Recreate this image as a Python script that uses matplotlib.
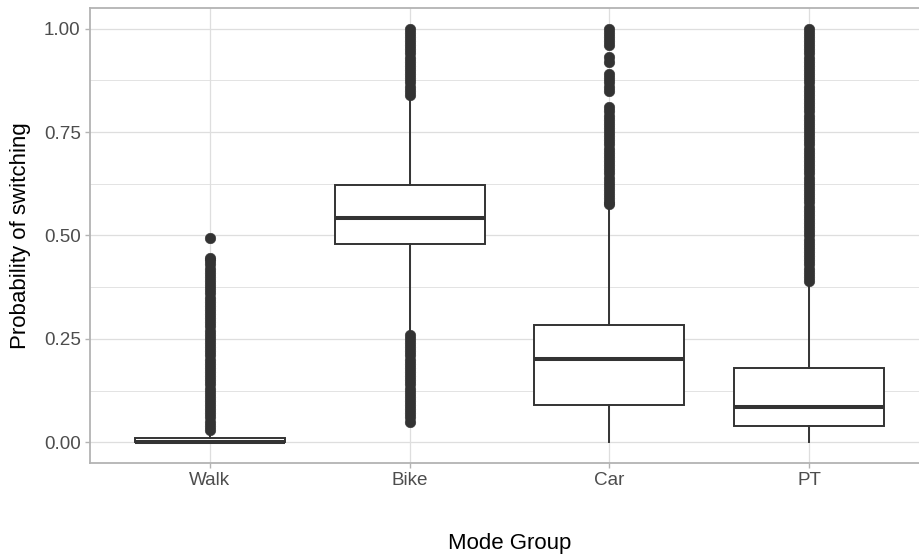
import matplotlib
matplotlib.use("Agg")
import matplotlib.pyplot as plt
from matplotlib.ticker import MultipleLocator

plt.rcParams['font.family'] = ['Liberation Sans', 'DejaVu Sans']

# Box summaries per mode group (probability of switching)
modes = ["Walk", "Bike", "Car", "PT"]
q1 = [0.000, 0.480, 0.091, 0.039]
median = [0.000, 0.543, 0.202, 0.085]
q3 = [0.011, 0.622, 0.283, 0.180]
whisker_low = [0.000, 0.270, 0.000, 0.000]
whisker_high = [0.025, 0.830, 0.565, 0.380]

# Outlying observations beyond the whiskers
walk_outliers = [0.03, 0.04, 0.05, 0.06, 0.07, 0.08, 0.09, 0.10, 0.11, 0.12,
                 0.13, 0.14, 0.15, 0.16, 0.17, 0.18, 0.19, 0.20, 0.21, 0.22,
                 0.23, 0.24, 0.25, 0.26, 0.27, 0.28, 0.29, 0.30, 0.31, 0.32,
                 0.33, 0.34, 0.35, 0.36, 0.37, 0.38, 0.39, 0.40, 0.41, 0.42,
                 0.43, 0.44, 0.445, 0.495]
bike_outliers = [0.05, 0.06, 0.07, 0.08, 0.09, 0.10, 0.11, 0.12, 0.13, 0.14,
                 0.15, 0.16, 0.17, 0.18, 0.19, 0.20, 0.21, 0.22, 0.23, 0.24,
                 0.25, 0.26,
                 0.84, 0.85, 0.86, 0.87, 0.88, 0.89, 0.90, 0.91, 0.92, 0.93,
                 0.94, 0.95, 0.96, 0.97, 0.98, 0.99, 1.00]
car_outliers = [0.575, 0.58, 0.59, 0.60, 0.61, 0.62, 0.63, 0.64, 0.65, 0.66,
                0.67, 0.68, 0.69, 0.70, 0.71, 0.72, 0.73, 0.74, 0.75, 0.76,
                0.77, 0.78, 0.79, 0.80, 0.81,
                0.85, 0.86, 0.87, 0.88, 0.89,
                0.92, 0.932,
                0.96, 0.97, 0.98, 0.99, 1.00]
pt_outliers = [0.39, 0.40, 0.41, 0.42, 0.43, 0.44, 0.45, 0.46, 0.47, 0.48,
               0.49, 0.50, 0.51, 0.52, 0.53, 0.54, 0.55, 0.56, 0.57, 0.58,
               0.59, 0.60, 0.61, 0.62, 0.63, 0.64, 0.65, 0.66, 0.67, 0.68,
               0.69, 0.70, 0.71, 0.72, 0.73, 0.74, 0.75, 0.76, 0.77, 0.78,
               0.79, 0.80, 0.81, 0.82, 0.83, 0.84, 0.85, 0.86, 0.87, 0.88,
               0.89, 0.90, 0.91, 0.92, 0.93, 0.94, 0.95, 0.96, 0.97, 0.98,
               0.99, 1.00]
outliers = [walk_outliers, bike_outliers, car_outliers, pt_outliers]

y_ticks = [0.00, 0.25, 0.50, 0.75, 1.00]

stats = []
for i, name in enumerate(modes):
    stats.append({
        "label": name,
        "q1": q1[i], "med": median[i], "q3": q3[i],
        "whislo": whisker_low[i], "whishi": whisker_high[i],
        "fliers": outliers[i],
    })

ink = "#333333"
grid_col = "#DEDEDE"
border_col = "#B3B3B3"

fig = plt.figure(figsize=(9.2, 5.6), dpi=100)
# panel runs a little past the right edge of the canvas
ax = fig.add_axes([90 / 920, 1 - 463 / 560, 839 / 920, 455 / 560])

ax.bxp(stats, positions=[1, 2, 3, 4], widths=0.75, showcaps=False,
       patch_artist=True,
       boxprops=dict(facecolor="white", edgecolor=ink, linewidth=1.4),
       medianprops=dict(color=ink, linewidth=2.9, solid_capstyle="butt"),
       whiskerprops=dict(color=ink, linewidth=1.4),
       flierprops=dict(marker="o", markerfacecolor=ink, markeredgecolor=ink,
                       markersize=7.6, markeredgewidth=0.4, linestyle="none"))

ax.set_xlim(0.4, 4.6)
ax.set_ylim(-0.05, 1.05)
ax.set_yticks(y_ticks)
ax.set_yticklabels([f"{v:.2f}" for v in y_ticks])
ax.yaxis.set_minor_locator(MultipleLocator(0.125))
ax.set_xticks([1, 2, 3, 4])
ax.set_xticklabels(modes)

ax.set_axisbelow(True)
ax.grid(True, which="major", color=grid_col, linewidth=0.9)
ax.grid(True, which="minor", axis="y", color=grid_col, linewidth=0.6)

for s in ax.spines.values():
    s.set_color(border_col)
    s.set_linewidth(1.3)

ax.tick_params(axis="both", which="major", length=3.5, width=1.0,
               color=border_col, labelcolor="#4D4D4D", labelsize=13.6, pad=3.2)
ax.tick_params(axis="y", which="minor", length=0)

ax.set_xlabel("Mode Group", fontsize=16, color="black")
ax.set_ylabel("Probability of switching", fontsize=16, color="black")
ax.xaxis.set_label_coords(0.5, (463 - 543) / 455)
ax.xaxis.label.set_va("center")
ax.yaxis.set_label_coords((21 - 90) / 839, 0.5)
ax.yaxis.label.set_va("center")

fig.savefig("out.png", dpi=100)
